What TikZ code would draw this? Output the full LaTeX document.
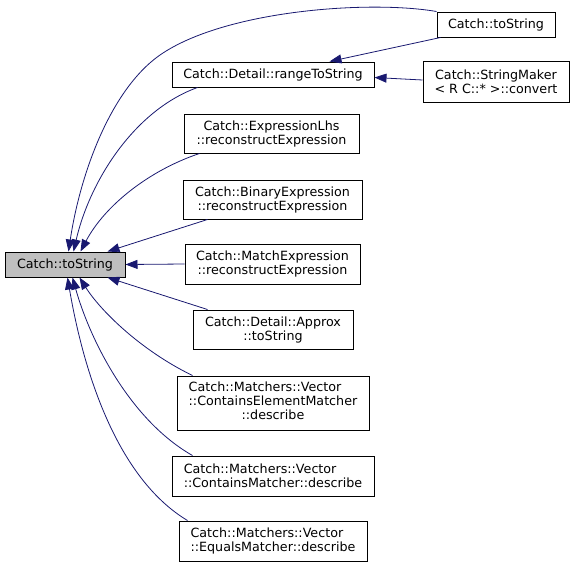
\documentclass[tikz,border=0pt]{standalone}
\usepackage{fontspec}
\setmainfont{DejaVu Sans}
\usetikzlibrary{arrows.meta,positioning}
\definecolor{edgeblue}{HTML}{191970}
\definecolor{rootgrey}{HTML}{BFBFBF}
\tikzset{
  box/.style={draw, line width=1pt, fill=white, align=center, inner sep=2pt, minimum height=25pt, font=\fontsize{12.7}{14}\selectfont},
  rootbox/.style={box, fill=rootgrey},
  edge/.style={-{Triangle[length=12pt,width=9pt]}, draw=edgeblue, line width=0.8pt}
}

\begin{document}
\begin{tikzpicture}[x=1pt,y=-1pt]
\useasboundingbox (0,0) rectangle (575,568);
\node[rootbox, minimum width=120pt] (root) at (65,264.5) {Catch::toString};
\node[box, minimum width=118pt] (topstr) at (496,24.5) {Catch::toString};
\node[box, minimum width=202pt] (range) at (273,74.5) {Catch::Detail::rangeToString};
\node[box, minimum width=146pt, minimum height=41pt] (sm) at (496,82) {Catch::StringMaker\\< R C::* >::convert};
\node[box, minimum width=175pt, minimum height=39pt] (lhs) at (271.5,133.5) {Catch::ExpressionLhs\\::reconstructExpression};
\node[box, minimum width=179pt, minimum height=39pt] (binary) at (272.5,199.5) {Catch::BinaryExpression\\::reconstructExpression};
\node[box, minimum width=175pt, minimum height=40pt] (match) at (272.5,264) {Catch::MatchExpression\\::reconstructExpression};
\node[box, minimum width=160pt, minimum height=39pt] (approx) at (273,329.5) {Catch::Detail::Approx\\::toString};
\node[box, minimum width=192pt, minimum height=54pt] (cem) at (273,403) {\begin{tabular}{@{}l@{}}Catch::Matchers::Vector\\::ContainsElementMatcher\\\multicolumn{1}{@{}c@{}}{::describe}\end{tabular}};
\node[box, minimum width=202pt, minimum height=40pt, align=left] (cm) at (273,476) {Catch::Matchers::Vector\\::ContainsMatcher::describe};
\node[box, minimum width=188pt, minimum height=40pt, align=left] (em) at (273,541) {Catch::Matchers::Vector\\::EqualsMatcher::describe};

% callers of Catch::toString
\draw[edge] (topstr.north west) .. controls (370,0) and (225,10) .. (160,55) .. controls (110,90) and (80,175) .. ([xshift=64pt]root.north west);
\draw[edge] ([xshift=26pt]range.south west) .. controls (135,110) and (90,180) .. ([xshift=69pt]root.north west);
\draw[edge] ([xshift=16pt]lhs.south west) .. controls (150,170) and (105,205) .. ([xshift=76pt]root.north west);
\draw[edge] ([xshift=25pt]binary.south west) -- ([xshift=103pt]root.north west);
\draw[edge] (match.west) -- (root.east);
\draw[edge] ([xshift=15pt]approx.north west) -- ([xshift=103pt]root.south west);
\draw[edge] ([xshift=16pt]cem.north west) .. controls (140,350) and (100,310) .. ([xshift=75pt]root.south west);
\draw[edge] ([xshift=21pt]cm.north west) .. controls (130,420) and (90,340) .. ([xshift=68pt]root.south west);
\draw[edge] ([xshift=9pt]em.north west) .. controls (120,480) and (85,380) .. ([xshift=63pt]root.south west);

% callers of rangeToString
\draw[edge] ([xshift=4pt]topstr.south west) -- ([xshift=158pt]range.north west);
\draw[edge] ([yshift=2pt]sm.west) -- ([yshift=-3pt]range.east);
\end{tikzpicture}
\end{document}
